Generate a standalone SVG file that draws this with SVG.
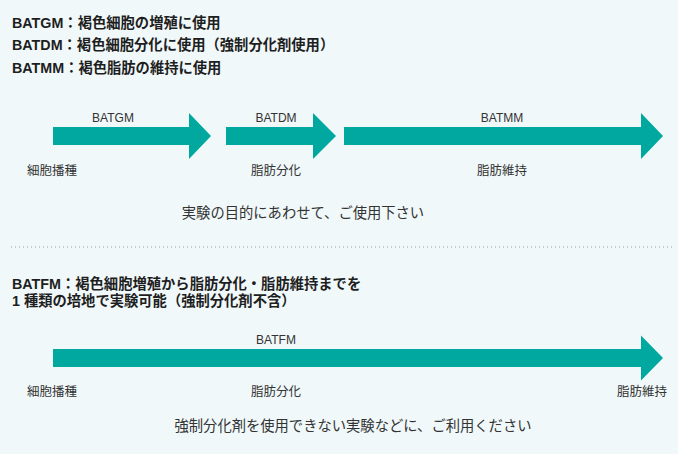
<svg xmlns="http://www.w3.org/2000/svg" width="678" height="454" viewBox="0 0 678 454">
<style>
.title{font-family:"Liberation Sans","Noto Sans CJK JP",sans-serif;font-weight:bold;font-size:14.3px;fill:#1e1e1e}
.lab{font-family:"Liberation Sans","Noto Sans CJK JP",sans-serif;font-size:12px;fill:#333;text-anchor:middle}
.jlab{font-family:"Noto Sans CJK JP",sans-serif;font-size:12.5px;fill:#333;text-anchor:middle}
.note{font-family:"Noto Sans CJK JP",sans-serif;font-size:14.3px;fill:#333;text-anchor:middle}
.arrow{fill:#00a8a0}
</style>
<rect x="0" y="0" width="678" height="454" fill="#f0f8fa"/>
<g id="header">
<text class="title" x="12" y="27.5">BATGM：褐色細胞の増殖に使用</text>
<text class="title" x="12" y="50">BATDM：褐色細胞分化に使用（強制分化剤使用）</text>
<text class="title" x="12" y="72.5">BATMM：褐色脂肪の維持に使用</text>
</g>
<g id="batgm">
<path class="arrow" d="M53,127 H189 V113 L211,136 L189,159 V145 H53 Z"/>
<text class="lab" x="113" y="122">BATGM</text>
</g>
<g id="batdm">
<path class="arrow" d="M226,127 H313 V113 L336,136 L313,159 V145 H226 Z"/>
<text class="lab" x="276" y="122">BATDM</text>
</g>
<g id="batmm">
<path class="arrow" d="M344,127 H641 V113 L663,136 L641,159 V145 H344 Z"/>
<text class="lab" x="502" y="122">BATMM</text>
</g>
<g id="stages1">
<text class="jlab" x="52" y="175">細胞播種</text>
<text class="jlab" x="276" y="175">脂肪分化</text>
<text class="jlab" x="502" y="175">脂肪維持</text>
</g>
<text class="note" x="303" y="218">実験の目的にあわせて、ご使用下さい</text>
<line x1="11" y1="247" x2="672" y2="247" stroke="#9a9a9a" stroke-width="1" stroke-dasharray="1 3"/>
<g id="header2">
<text class="title" x="12" y="288.5">BATFM：褐色細胞増殖から脂肪分化・脂肪維持までを</text>
<text class="title" x="12" y="305.5">1 種類の培地で実験可能（強制分化剤不含）</text>
</g>
<g id="batfm">
<path class="arrow" d="M53,349 H641 V335.5 L663,358 L641,380.5 V367 H53 Z"/>
<text class="lab" x="276" y="344">BATFM</text>
</g>
<g id="stages2">
<text class="jlab" x="52" y="396">細胞播種</text>
<text class="jlab" x="276" y="396">脂肪分化</text>
<text class="jlab" x="642" y="396">脂肪維持</text>
</g>
<text class="note" x="353" y="431">強制分化剤を使用できない実験などに、ご利用ください</text>
<g id="connectors"/>
</svg>
